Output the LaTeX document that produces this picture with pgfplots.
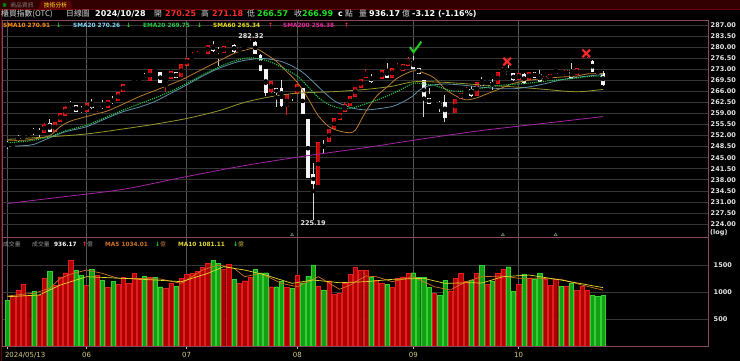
\documentclass[border=0pt]{standalone}
\usepackage{fontspec}
\setmainfont{DejaVu Sans}
\newfontfamily\cjk{Noto Sans CJK TC}
\usepackage{pgfplots}
\pgfplotsset{compat=1.18}
\usepackage{pgfplotstable}

\definecolor{frame}{HTML}{8A4860}
\definecolor{hgrid}{HTML}{363636}
\definecolor{vgrid}{HTML}{555555}
\definecolor{labc}{HTML}{E6E6E6}
\definecolor{datec}{HTML}{D6CB82}
\definecolor{upedge}{HTML}{E41A1A}
\definecolor{upfill}{HTML}{B80A0A}
\definecolor{dnbody}{HTML}{F4F4F4}
\definecolor{dnwick}{HTML}{D4D4D4}
\definecolor{cSMAten}{HTML}{B8792E}
\definecolor{cSMAtw}{HTML}{5F8FA8}
\definecolor{cEMA}{HTML}{22C846}
\definecolor{cSMAsix}{HTML}{96962A}
\definecolor{cSMAtwo}{HTML}{A424A4}
\definecolor{vred}{HTML}{B00000}
\definecolor{vrededge}{HTML}{E02020}
\definecolor{vgreen}{HTML}{14A014}
\definecolor{vgreenedge}{HTML}{34D034}
\definecolor{vmafive}{HTML}{D07424}
\definecolor{vmaten}{HTML}{E2D830}
\definecolor{txtred}{HTML}{FF2A2A}
\definecolor{txtgreen}{HTML}{22E022}
\definecolor{chkc}{HTML}{22C822}
\definecolor{hdrgray}{HTML}{D8D8D8}

\pgfdeclareplotmark{chk}{%
  \pgfpathmoveto{\pgfqpoint{-5.5pt}{0.5pt}}%
  \pgfpathlineto{\pgfqpoint{-1.8pt}{-4.5pt}}%
  \pgfpathlineto{\pgfqpoint{6pt}{6pt}}%
  \pgfusepathqstroke}
\pgfdeclareplotmark{xx}{%
  \pgfpathmoveto{\pgfqpoint{-3.8pt}{-3.8pt}}%
  \pgfpathlineto{\pgfqpoint{3.8pt}{3.8pt}}%
  \pgfpathmoveto{\pgfqpoint{-3.8pt}{3.8pt}}%
  \pgfpathlineto{\pgfqpoint{3.8pt}{-3.8pt}}%
  \pgfusepathqstroke}

% rising candles (red)
\pgfplotstableread{
i o h l c
1 248.9 249.3 248.6 249.1
3 251.2 252.0 250.8 251.8
4 252.3 253.0 252.0 252.9
7 253.0 256.0 252.8 255.6
9 253.2 256.3 253.0 256.0
10 256.6 259.0 256.4 258.8
11 258.5 261.2 258.3 260.9
15 259.6 262.3 259.4 262.0
17 260.2 261.4 259.3 260.9
19 261.0 263.3 260.8 263.0
21 263.0 265.9 262.8 265.6
22 265.9 268.3 265.7 268.0
23 268.0 268.8 267.7 268.5
24 269.0 269.8 268.8 269.5
25 269.5 270.3 269.3 270.0
27 269.6 272.9 269.4 272.7
30 268.9 269.9 265.9 269.5
31 270.1 272.5 269.9 272.2
33 270.6 274.5 270.4 274.3
34 274.3 276.6 274.1 276.4
35 276.6 278.3 276.3 277.2
36 277.0 278.7 276.8 277.5
37 277.6 278.2 277.3 277.9
38 278.0 280.8 277.8 280.6
41 278.2 280.3 278.0 280.1
42 280.4 282.0 280.2 281.4
44 278.7 279.6 278.5 279.4
45 279.6 280.4 279.4 280.1
46 280.4 282.6 280.2 281.5
50 265.9 269.3 265.6 269.1
53 261.1 264.9 258.6 264.8
55 265.2 268.5 265.0 268.1
59 236.4 249.8 236.2 249.6
61 250.1 254.2 249.9 254.0
62 254.3 257.4 254.1 257.2
63 257.2 259.1 257.0 258.9
64 259.6 262.5 259.4 261.7
65 261.4 264.6 261.2 264.4
66 264.4 267.5 264.2 267.3
67 267.3 270.0 267.1 269.8
68 270.5 272.9 270.3 271.9
70 270.0 270.8 269.8 270.5
71 270.0 272.8 269.8 272.6
73 270.5 273.4 270.3 273.2
74 273.0 274.8 272.8 273.3
75 272.7 274.5 272.5 274.3
76 274.3 276.9 274.1 275.9
81 262.8 264.0 262.2 263.1
84 257.7 258.8 257.2 258.5
85 259.2 263.7 259.0 263.5
86 263.7 265.6 263.5 265.4
87 265.6 267.3 265.4 266.4
89 264.8 269.0 264.6 268.8
91 268.6 269.2 268.4 268.9
93 268.5 272.0 268.3 271.8
94 271.8 273.8 271.6 272.3
97 269.8 271.7 269.6 271.5
99 269.8 272.1 269.6 271.9
102 269.5 270.7 269.3 270.5
103 270.0 271.4 269.8 271.2
104 271.7 273.5 271.5 272.6
106 271.2 272.8 271.0 272.6
108 271.2 273.4 271.0 273.2
109 273.6 274.5 273.4 274.3
110 274.8 276.8 274.6 275.4
}\upT

% falling candles (white)
\pgfplotstableread{
i o h l c
0 249.3 250.3 247.6 249.0
2 251.4 252.2 250.0 251.0
5 253.5 254.5 252.2 253.1
6 253.2 254.3 251.6 252.9
8 255.8 257.1 253.0 253.2
12 261.7 263.0 260.6 261.3
13 261.4 261.8 259.4 259.7
14 260.3 261.4 259.0 259.8
16 262.2 263.7 260.5 260.9
18 261.6 263.2 260.4 261.2
20 263.2 264.4 261.9 262.8
26 270.4 271.9 269.6 269.9
28 272.6 272.9 271.7 272.0
29 271.9 272.1 268.5 268.7
32 271.9 272.2 270.1 270.3
39 280.6 282.0 278.4 278.8
40 278.9 280.0 274.1 278.5
43 280.6 281.0 278.2 278.5
47 281.4 281.8 277.8 278.0
48 277.2 277.8 272.4 272.6
49 272.8 273.0 264.4 265.5
51 266.8 267.2 261.0 265.5
52 267.0 269.6 261.1 261.4
54 264.7 265.5 263.0 264.1
56 266.9 267.2 258.7 259.0
57 257.1 257.3 238.7 238.9
58 239.8 243.4 225.4 236.7
60 248.9 250.6 246.3 248.5
69 270.5 271.5 268.6 269.2
72 272.6 274.8 270.3 270.5
77 275.4 277.1 273.0 273.2
78 273.2 273.4 271.4 271.6
79 269.3 269.5 257.9 263.4
80 263.7 266.9 262.1 262.3
82 262.0 262.8 259.3 261.6
83 262.4 264.7 256.3 257.7
88 266.4 267.7 264.3 264.8
90 269.0 270.6 267.8 268.0
92 268.8 269.8 266.5 267.7
95 272.3 274.4 271.0 271.2
96 271.5 271.7 269.4 269.6
98 271.2 271.7 268.4 268.7
100 271.9 272.1 270.3 270.5
101 271.2 272.8 268.9 269.1
105 272.0 272.4 271.4 271.7
107 272.6 274.8 269.8 270.0
111 275.4 275.9 272.1 272.3
112 272.3 273.0 271.4 271.8
113 271.5 272.4 267.8 268.3
}\dnT

% volume (red bars)
\pgfplotstableread{
i v
1 913
2 1037
3 1148
4 944
6 944
7 1253
9 1129
10 1283
11 1357
12 1580
15 1129
17 1314
19 1080
21 1148
22 1271
23 1160
24 1345
25 1234
27 1271
30 1067
31 1160
33 1253
34 1327
35 1345
36 1376
37 1456
38 1530
41 1419
42 1512
44 1160
45 1209
46 1271
50 1098
53 1086
55 1314
59 1111
61 1209
62 962
63 975
64 1160
65 1327
66 1450
67 1395
68 1407
70 1222
71 1160
73 1086
74 1253
75 1283
76 1345
81 975
84 1006
85 1253
86 1345
87 1191
89 1345
91 1148
93 1345
94 1419
97 1148
99 1253
102 1234
103 1129
104 1234
106 1111
108 1037
109 1111
110 1037
}\vRed

% volume (green bars)
\pgfplotstableread{
i v
0 851
5 1006
8 1388
13 1407
14 1302
16 1419
18 1222
20 1191
26 1296
28 1265
29 1098
32 1111
39 1580
40 1530
43 1234
47 1419
48 1357
49 1357
51 1098
52 1191
54 1067
56 1172
57 1296
58 1500
60 1037
69 1271
72 1148
77 1357
78 1271
79 1271
80 1086
82 944
83 1222
88 1222
90 1493
92 1191
95 1468
96 1006
98 1333
100 1234
101 1345
105 1111
107 1160
111 944
112 925
113 936.17
}\vGreen

\begin{document}
\begin{tikzpicture}[x=1pt,y=1pt]
\useasboundingbox (0,0) rectangle (740,361);
\fill[black] (0,0) rectangle (740,361);
% top band with tabs
\fill[black!80!red] (0,351.5) rectangle (740,361);
\fill[red!35!black] (38,351.5) -- (41,360) -- (70,360) -- (73,351.5) -- cycle;
\draw[red!45!black, line width=0.6pt] (0,351.5) -- (740,351.5);
\fill[green!50!black] (4.5,356) circle (2pt);
\node[anchor=center, inner sep=0, text=gray, font=\cjk\fontsize{5.8}{6}\selectfont] at (22,356) {商品資訊};
\node[anchor=center, inner sep=0, text=yellow!85!white, font=\cjk\fontsize{5.8}{6}\selectfont] at (55.5,356) {技術分析};
\draw[red!40!black, line width=1pt] (1.2,0) -- (1.2,351);

% ---------------- price panel ----------------
\begin{axis}[
  at={(2pt,124pt)}, anchor=south west, scale only axis,
  width=706pt, height=217pt,
  xmin=-1.044, xmax=132.92, ymin=219.9, ymax=288.56,
  clip=false,
  axis line style={draw=frame, line width=0.7pt},
  xtick={0,15,34,55,77,97}, xticklabels={}, xmajorgrids,
  x grid style={draw=vgrid, line width=0.6pt},
  ytick={224,227.5,231,234.5,238,241.5,245,248.5,252,255.5,259,262.5,266,269.5,273,276.5,280,283.5,287},
  yticklabels={224.00,227.50,231.00,234.50,238.00,241.50,245.00,248.50,252.00,255.50,259.00,262.50,266.00,269.50,273.00,276.50,280.00,283.50,287.00},
  ymajorgrids, y grid style={draw=hgrid, line width=0.6pt},
  yticklabel pos=right, ytick pos=right,
  major tick length=0pt,
  tick label style={font=\bfseries\fontsize{6.5}{7}\selectfont, text=labc},
  yticklabel style={xshift=-0.8pt},
]
% wicks
\addplot[only marks, mark=none, forget plot,
  error bars/.cd, y dir=both, y explicit, error mark=none,
  error bar style={draw=upedge, line width=0.85pt}]
  table[x=i, y expr={(\thisrow{h}+\thisrow{l})/2}, y error expr={(\thisrow{h}-\thisrow{l})/2}] {\upT};
\addplot[only marks, mark=none, forget plot,
  error bars/.cd, y dir=both, y explicit, error mark=none,
  error bar style={draw=dnwick, line width=0.85pt}]
  table[x=i, y expr={(\thisrow{h}+\thisrow{l})/2}, y error expr={(\thisrow{h}-\thisrow{l})/2}] {\dnT};
% bodies
\addplot[only marks, mark=none, forget plot,
  error bars/.cd, y dir=both, y explicit, error mark=none,
  error bar style={draw=upedge, line width=4pt}]
  table[x=i, y expr={(\thisrow{o}+\thisrow{c})/2}, y error expr={abs(\thisrow{c}-\thisrow{o})/2+0.2}] {\upT};
\addplot[only marks, mark=none, forget plot,
  error bars/.cd, y dir=both, y explicit, error mark=none,
  error bar style={draw=upfill, line width=2.8pt}]
  table[x=i, y expr={(\thisrow{o}+\thisrow{c})/2}, y error expr={max(abs(\thisrow{c}-\thisrow{o})/2-0.05,0.03)}] {\upT};
\addplot[only marks, mark=none, forget plot,
  error bars/.cd, y dir=both, y explicit, error mark=none,
  error bar style={draw=dnbody, line width=3.9pt}]
  table[x=i, y expr={(\thisrow{o}+\thisrow{c})/2}, y error expr={abs(\thisrow{c}-\thisrow{o})/2+0.18}] {\dnT};
% moving averages
\addplot[cSMAtwo, line width=0.8pt, smooth] coordinates {(0,230.5) (11,232.7) (22,235.0) (33,238.7) (45,242.5) (56,245.4) (68,248.2) (79,251.0) (90,253.6) (101,255.7) (113,258.0)};
\addplot[cSMAsix, line width=0.8pt, smooth] coordinates {(0,250.8) (8,251.6) (15,252.5) (22,254.1) (28,255.6) (34,257.4) (40,259.8) (45,262.5) (50,264.3) (55,265.4) (62,265.9) (68,266.6) (73,267.6) (77,269.0) (82,268.9) (86,268.5) (90,268.0) (96,267.4) (102,266.6) (106,266.0) (109,265.9) (113,266.6)};
\addplot[cSMAtw, line width=0.8pt, smooth] coordinates {(0,248.6) (3,248.8) (5,249.2) (8,251.3) (11,253.2) (15,254.8) (19,257.6) (22,259.6) (25,261.0) (28,262.8) (31,265.4) (34,268.0) (37,270.8) (40,273.2) (43,275.0) (45,275.8) (48,276.4) (50,276.1) (52,275.4) (54,274.0) (56,272.0) (58,269.0) (60,265.8) (62,263.0) (64,261.5) (66,260.5) (68,260.1) (70,260.4) (73,261.2) (75,262.6) (77,264.6) (78,266.2) (80,267.8) (83,268.3) (86,268.0) (90,267.3) (93,266.9) (96,266.8) (99,267.4) (102,268.4) (105,269.6) (108,270.4) (111,271.0) (113,271.3)};
\addplot[cSMAten, line width=0.8pt, smooth] coordinates {(0,250.5) (3,250.5) (5,250.9) (8,252.0) (10,254.8) (12,256.6) (15,258.0) (17,258.9) (19,259.8) (22,262.0) (25,264.3) (29,266.9) (33,269.6) (37,273.0) (40,275.5) (43,278.0) (45,279.0) (47,279.6) (49,277.8) (51,275.5) (53,272.2) (55,268.8) (57,263.8) (59,258.2) (61,254.8) (63,253.4) (65,252.9) (66,253.7) (67,256.6) (68,259.6) (70,264.4) (72,267.3) (74,270.2) (77,272.5) (79,271.8) (81,270.2) (83,266.8) (85,264.6) (87,263.3) (89,263.9) (91,265.2) (93,266.5) (96,268.5) (99,269.5) (102,270.1) (105,270.5) (108,270.8) (110,271.5) (113,271.6)};
\addplot[cEMA, line width=1.1pt, dash pattern=on 1.1pt off 1.1pt, smooth] coordinates {(0,249.7) (4,250.3) (8,251.6) (11,253.5) (15,255.3) (19,258.0) (22,260.1) (25,262.0) (28,263.9) (31,266.0) (34,268.5) (37,271.2) (40,273.6) (43,275.6) (46,276.6) (49,275.8) (51,274.5) (53,272.7) (55,270.8) (57,267.5) (59,264.0) (61,261.8) (63,260.7) (65,260.6) (67,261.5) (69,262.6) (71,263.8) (74,266.0) (77,268.5) (79,268.3) (81,267.9) (84,266.2) (87,266.1) (90,267.0) (93,267.8) (96,268.2) (99,268.6) (102,269.2) (105,269.7) (108,270.2) (111,270.8) (113,270.7)};
% signal marks
\addplot[only marks, mark=chk, mark options={draw=chkc, line width=2.1pt}] coordinates {(77.4,279.8)};
\addplot[only marks, mark=xx, mark options={draw=txtred, line width=2.1pt}] coordinates {(94.8,275.4) (109.8,278.0)};
\addplot[only marks, mark=triangle, mark size=1.7pt, mark options={draw=gray!80!green, line width=0.5pt}] coordinates {(54,220.6) (94,220.6) (104,220.6)};
% extremes
\node[font=\bfseries\fontsize{6.5}{7}\selectfont, text=labc, inner sep=0] at (axis cs:46.2,283.6) {282.32};
\node[font=\bfseries\fontsize{6.5}{7}\selectfont, text=labc, inner sep=0] at (axis cs:58,224.3) {225.19};
\node[font=\bfseries\fontsize{6.5}{7}\selectfont, text=labc, inner sep=0, anchor=west] at ([xshift=2pt,yshift=4pt]rel axis cs:1,0) {(log)};
\end{axis}

% ---------------- volume panel ----------------
\begin{axis}[
  at={(2pt,15pt)}, anchor=south west, scale only axis,
  width=706pt, height=109pt,
  xmin=-1.044, xmax=132.92, ymin=0, ymax=2018.5,
  axis line style={draw=frame, line width=0.7pt},
  xtick={0,15,34,55,77,97},
  xticklabels={\makebox[0pt][l]{\hspace*{-2.5pt}2024/05/13},06,07,08,09,10},
  xmajorgrids, x grid style={draw=vgrid, line width=0.6pt},
  ytick={500,1000,1500}, yticklabels={500,1000,1500},
  ymajorgrids, y grid style={draw=hgrid, line width=0.6pt},
  yticklabel pos=right, ytick pos=right, xtick pos=bottom,
  tick align=outside,
  ytick style={draw=none},
  xtick style={draw=datec, line width=0.6pt},
  major tick length=3pt,
  yticklabel style={font=\bfseries\fontsize{6.5}{7}\selectfont, text=labc, xshift=-0.8pt},
  xticklabel style={font=\fontsize{7}{8}\selectfont, text=datec},
]
\addplot[ybar, bar width=4.3pt, bar shift=0pt, fill=vred, draw=vrededge, line width=0.4pt] table[x=i, y=v] {\vRed};
\addplot[ybar, bar width=4.3pt, bar shift=0pt, fill=vgreen, draw=vgreenedge, line width=0.4pt] table[x=i, y=v] {\vGreen};
\addplot[vmafive, line width=0.7pt] coordinates {(0,925) (3,960) (5,975) (8,1067) (10,1253) (12,1330) (15,1407) (18,1345) (21,1253) (25,1250) (29,1240) (33,1160) (37,1407) (40,1500) (43,1438) (45,1283) (48,1345) (52,1160) (55,1098) (59,1283) (63,1050) (65,1129) (68,1296) (70,1283) (73,1191) (77,1283) (81,1098) (84,1037) (87,1191) (90,1283) (94,1296) (97,1253) (101,1253) (105,1234) (109,1129) (113,1034)};
\addplot[vmaten, line width=0.7pt] coordinates {(0,913) (6,944) (10,1129) (15,1283) (22,1253) (28,1222) (33,1191) (38,1345) (41,1468) (45,1407) (49,1314) (54,1160) (58,1222) (63,1172) (68,1191) (73,1234) (79,1253) (83,1160) (88,1172) (90,1165) (94,1283) (99,1314) (105,1222) (113,1081)};
\draw[gray!70, line width=0.7pt] (rel axis cs:0,0) -- (rel axis cs:1,0);
\end{axis}

% ---------------- header ----------------
\begin{scope}[every node/.style={anchor=west, inner sep=0}]
\node[text=hdrgray, font=\cjk\fontsize{7.8}{8}\selectfont] at (1,347) {櫃買指數(OTC)};
\node[text=hdrgray, font=\cjk\fontsize{7.8}{8}\selectfont] at (66,347) {日線圖};
\node[text=white, font=\bfseries\fontsize{8}{9}\selectfont] at (95,347) {2024/10/28};
\node[text=hdrgray, font=\cjk\fontsize{7.8}{8}\selectfont] at (154,347) {開};
\node[text=txtred, font=\bfseries\fontsize{8}{9}\selectfont] at (165,347) {270.25};
\node[text=hdrgray, font=\cjk\fontsize{7.8}{8}\selectfont] at (201,347) {高};
\node[text=txtred, font=\bfseries\fontsize{8}{9}\selectfont] at (212,347) {271.18};
\node[text=hdrgray, font=\cjk\fontsize{7.8}{8}\selectfont] at (247,347) {低};
\node[text=txtgreen, font=\bfseries\fontsize{8}{9}\selectfont] at (257,347) {266.57};
\node[text=hdrgray, font=\cjk\fontsize{7.8}{8}\selectfont] at (294,347) {收};
\node[text=txtgreen, font=\bfseries\fontsize{8}{9}\selectfont] at (302,347) {266.99};
\node[text=white, font=\bfseries\fontsize{8}{9}\selectfont] at (338,347) {c};
\node[text=hdrgray, font=\cjk\fontsize{7.8}{8}\selectfont] at (345,347) {點};
\node[text=hdrgray, font=\cjk\fontsize{7.8}{8}\selectfont] at (359,347) {量};
\node[text=white, font=\bfseries\fontsize{8}{9}\selectfont] at (369,347) {936.17};
\node[text=hdrgray, font=\cjk\fontsize{7.8}{8}\selectfont] at (402,347) {億};
\node[text=white, font=\bfseries\fontsize{8}{9}\selectfont] at (412,347) {-3.12 (-1.16\%)};
% price legend
\node[text=orange!90!yellow, font=\bfseries\fontsize{5.8}{6}\selectfont] at (3,336) {SMA10 270.91};
\node[text=txtgreen, font=\bfseries\fontsize{6}{6}\selectfont] at (56,336) {↓};
\node[text=cyan!50!white, font=\bfseries\fontsize{5.8}{6}\selectfont] at (73,336) {SMA20 270.26};
\node[text=txtgreen, font=\bfseries\fontsize{6}{6}\selectfont] at (126,336) {↓};
\node[text=cEMA, font=\bfseries\fontsize{5.8}{6}\selectfont] at (143,336) {EMA20 269.75};
\node[text=txtgreen, font=\bfseries\fontsize{6}{6}\selectfont] at (197,336) {↓};
\node[text=yellow!90!black, font=\bfseries\fontsize{5.8}{6}\selectfont] at (213,336) {SMA60 265.34};
\node[text=txtred, font=\bfseries\fontsize{6}{6}\selectfont] at (268,336) {↑};
\node[text=magenta!85!white, font=\bfseries\fontsize{5.8}{6}\selectfont] at (283,336) {SMA200 256.38};
\node[text=txtred, font=\bfseries\fontsize{6}{6}\selectfont] at (344,336) {↑};
% volume legend
\node[text=gray!80!white, font=\cjk\fontsize{5.8}{6}\selectfont] at (3,117) {成交量};
\node[text=gray!80!white, font=\cjk\fontsize{5.8}{6}\selectfont] at (32,117) {成交量};
\node[text=white, font=\bfseries\fontsize{5.8}{6}\selectfont] at (54,117) {936.17};
\node[text=txtred, font=\bfseries\fontsize{6}{6}\selectfont] at (82,117) {↑};
\node[text=gray!80!white, font=\cjk\fontsize{5.8}{6}\selectfont] at (87,117) {億};
\node[text=vmafive, font=\bfseries\fontsize{5.8}{6}\selectfont] at (105,117) {MA5 1034.01};
\node[text=txtgreen, font=\bfseries\fontsize{6}{6}\selectfont] at (155,117) {↓};
\node[text=vmafive!70!gray, font=\cjk\fontsize{5.8}{6}\selectfont] at (160,117) {億};
\node[text=vmaten, font=\bfseries\fontsize{5.8}{6}\selectfont] at (178,117) {MA10 1081.11};
\node[text=txtgreen, font=\bfseries\fontsize{6}{6}\selectfont] at (233,117) {↓};
\node[text=vmaten!70!gray, font=\cjk\fontsize{5.8}{6}\selectfont] at (238,117) {億};
\end{scope}
\end{tikzpicture}
\end{document}
